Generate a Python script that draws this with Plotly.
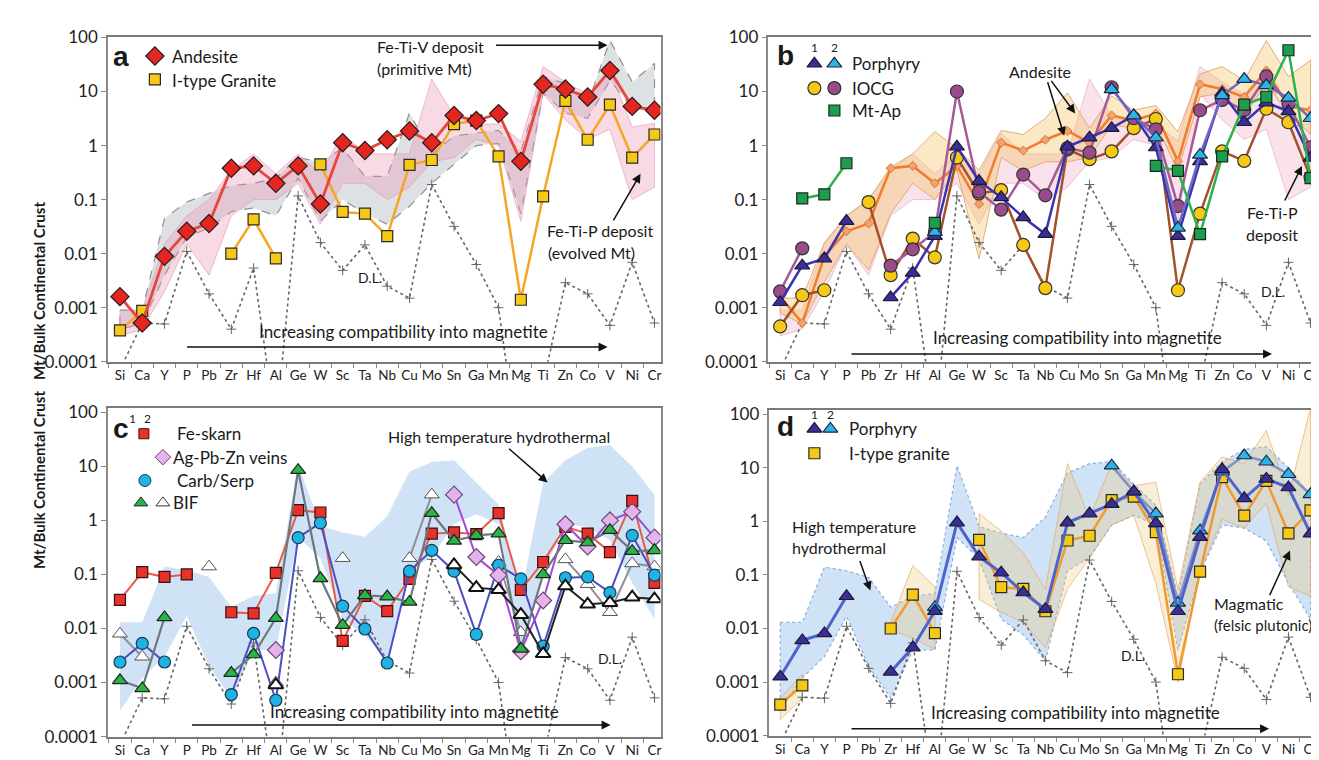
import plotly.graph_objects as go

N = None
ELEMENTS = ["Si", "Ca", "Y", "P", "Pb", "Zr", "Hf", "Al", "Ge", "W", "Sc", "Ta", "Nb",
            "Cu", "Mo", "Sn", "Ga", "Mn", "Mg", "Ti", "Zn", "Co", "V", "Ni", "Cr"]
Y_TICKS = [0.0001, 0.001, 0.01, 0.1, 1, 10, 100]
Y_TICK_LABELS = ["0.0001", "0.001", "0.01", "0.1", "1", "10", "100"]

DETECTION_LIMIT = [7e-5, 5.2e-4, 5e-4, 0.011, 0.0018, 4e-4, 0.0054, 6e-6, 0.117, 0.016, 0.0049, 0.0145, 0.0025,
                   0.0015, 0.19, 0.032, 0.0063, 0.001, 1e-6, 4e-5, 0.0029, 0.0018, 4.7e-4, 0.0069, 5.2e-4]

# panel a
ANDESITE = [0.0016, 0.00052, 0.0089, 0.026, 0.036, 0.38, 0.42, 0.20, 0.42, 0.083, 1.13, 0.81, 1.28,
            1.86, 1.13, 3.6, 2.9, 3.9, 0.51, 13.6, 11.1, 7.9, 24.5, 5.3, 4.5]
ITYPE_GRANITE = [0.00038, 0.00087, N, N, N, 0.010, 0.043, 0.0082, N, 0.45, 0.059, 0.055, 0.021,
                 0.44, 0.54, 2.5, 2.9, 0.63, 0.0014, 0.115, 6.7, 1.28, 5.7, 0.60, 1.6]
FETIV_HI = [0.0009, 0.0009, 0.045, 0.09, 0.13, 0.18, 0.20, 0.25, 0.60, 0.50, 0.90, 0.27, 0.27,
            4.0, 0.70, 1.5, 1.7, 1.9, 0.78, 19, 14, 6.0, 88, 15, 33]
FETIV_LO = [0.0004, 0.0005, 0.004, 0.020, 0.030, 0.060, 0.070, 0.050, 0.25, 0.040, 0.10, 0.055, 0.035,
            0.075, 0.20, 0.45, 1.0, 1.1, 0.055, 9.4, 4.0, 3.2, 16, 5.0, 4.8]
FETIP_HI = [0.0009, 0.0009, 0.015, 0.05, 0.10, 0.35, 0.70, 0.30, 0.70, 0.30, 1.7, 0.70, 0.70,
            0.70, 17, 3.6, 2.5, 2.5, 1.2, 29, 15, 9.0, 25, 2.2, 2.6]
FETIP_LO = [0.0003, 0.0004, 0.002, 0.015, 0.004, 0.05, 0.10, 0.10, 0.20, 0.035, 0.20, 0.20, 0.10,
            0.17, 0.50, 0.60, 1.3, 1.0, 0.04, 9.0, 3.0, 1.3, 2.0, 0.10, 0.17]

# panel b
PORPHYRY_1 = [0.00126, 0.0060, 0.0081, 0.040, N, 0.00155, 0.0044, 0.021, 0.95, 0.22, 0.11, 0.047, 0.023,
              0.95, 1.4, 2.1, 3.6, 0.92, 0.021, 0.51, 9.4, 2.7, 6.2, 4.3, 0.59]
PORPHYRY_2 = [N, N, N, N, N, N, N, 0.025, N, N, N, N, N,
              N, N, 11, 3.6, 1.4, 0.030, 0.67, 8.5, 17, 13, 7.6, 3.2]
IOCG_1 = [0.00045, 0.0017, 0.0021, N, 0.090, 0.0040, 0.019, 0.0085, 0.60, 0.13, 0.15, 0.0145, 0.0023,
          0.85, 0.56, 0.78, 2.1, 3.1, 0.0021, 0.055, 0.78, 0.52, 4.8, 2.7, 0.26]
IOCG_2 = [0.0020, 0.0125, N, N, N, 0.0060, 0.012, 0.025, 10, 0.14, 0.065, 0.29, 0.12,
          0.90, 0.74, 12, 3.2, 2.0, 0.076, 4.5, 7.0, 4.5, 19, 5.9, 0.93]
MT_AP = [N, 0.105, 0.125, 0.47, N, N, N, 0.037, N, N, N, N, N,
         N, N, N, N, 0.42, 0.34, 0.023, 0.63, 5.7, 8.0, 58, 0.25]
ANDESITE_RANGE_HI = [0.0015, 0.0015, 0.016, 0.05, 0.10, 0.40, 0.70, 1.8, 0.90, 0.35, 1.9, 1.6, 3.2,
                     9.4, 2.1, 8.3, 4.5, 5.5, 1.8, 21, 29, 16, 88, 19, 38]
ANDESITE_RANGE_LO = [0.0008, 0.0005, 0.003, 0.015, 0.005, 0.055, 0.20, 0.10, 0.35, 0.008, 0.60, 0.34, 0.50,
                     0.50, 0.60, 2.4, 2.1, 2.5, 0.34, 8.0, 9.4, 3.6, 14, 4.0, 1.6]

# panel c
FE_SKARN = [0.034, 0.11, 0.090, 0.10, N, 0.020, 0.019, 0.107, 1.55, 1.4, 0.0059, 0.040, 0.021,
            0.083, 0.57, 0.60, 0.56, 1.36, 0.052, 0.17, 0.76, 0.57, 0.26, 2.3, 0.070]
AG_PB_ZN = [N, N, N, N, N, N, N, 0.004, N, N, N, N, N,
            N, N, 3.0, 0.21, 0.097, 0.0038, 0.033, 0.85, 0.33, 1.0, 1.45, 0.48]
CARB_SERP = [0.0024, 0.0053, 0.0024, N, N, 0.0006, 0.0081, 0.00047, 0.48, 0.90, 0.026, 0.0098, 0.0023,
             0.115, 0.28, 0.115, 0.0078, 0.148, 0.083, 0.0047, 0.087, 0.090, 0.046, 0.53, 0.097]
BIF_1 = [0.0011, 0.00078, 0.016, N, N, 0.0015, 0.0033, 0.0155, 8.5, 0.085, 0.0115, 0.041, 0.039,
         0.031, 1.36, 0.42, 0.53, 0.57, 0.0042, 0.10, 0.43, 0.39, 0.66, 0.27, 0.28]
BIF_2A = [0.008, 0.003, N, N, 0.14, N, N, 0.001, N, N, 0.20, N, N,
          0.20, 3.0, N, N, 0.17, 0.0085, N, 0.19, 0.066, 0.020, 0.16, 0.14]
BIF_2B = [N, N, N, N, N, N, N, 0.0009, N, N, N, N, N,
          N, N, 0.15, 0.057, 0.052, 0.018, 0.0034, 0.061, 0.028, 0.030, 0.038, 0.035]
HT_HI = [0.013, 0.013, 0.14, 0.12, 0.09, 0.025, 0.04, 0.045, 11, 0.8, 0.6, 0.5, 1.2,
         8, 12, 13, 5, 2, 0.04, 5, 13, 22, 25, 10, 3]
HT_LO = [0.0003, 0.0012, 0.003, 0.017, 0.002, 0.0005, 0.004, 0.004, 0.5, 0.2, 0.015, 0.0076, 0.0025,
         0.12, 0.21, 0.86, 1.3, 0.86, 0.004, 0.11, 0.86, 0.75, 0.43, 0.07, 0.015]

# panel d
MAGMATIC_HI = [0.0005, 0.0014, N, N, N, 0.013, 0.15, 0.06, N, 1.4, 0.66, 0.26, 0.054,
               12, 1.15, 12, 4.6, 5.4, 0.054, 5.4, 16, 12, 50, 3.0, 130]
MAGMATIC_LO = [0.0002, 0.0005, N, N, N, 0.0095, 0.0066, 0.0041, N, 0.035, 0.02, 0.013, 0.0044,
               0.054, 0.21, 0.86, 1.3, 0.07, 0.001, 0.12, 1.1, 0.75, 2.2, 0.06, 0.04]

# ---------------------------------------------------------------- figure
W, H = 1319, 760
FONT = "Lato, Open Sans, sans-serif"
fig = go.Figure()


def band(hi, lo, ax, fill, line_color, dash="solid", lw=1):
    xa, ya = ax
    segs, cur = [], []
    for i, (h, l) in enumerate(zip(hi, lo)):
        if h is None or l is None:
            if cur:
                segs.append(cur)
            cur = []
        else:
            cur.append(i)
    if cur:
        segs.append(cur)
    for seg in segs:
        xs = [ELEMENTS[i] for i in seg] + [ELEMENTS[i] for i in reversed(seg)]
        ys = [hi[i] for i in seg] + [lo[i] for i in reversed(seg)]
        fig.add_trace(go.Scatter(x=xs + [xs[0]], y=ys + [ys[0]], mode="lines", fill="toself",
                                 fillcolor=fill, line=dict(color=line_color, width=lw, dash=dash),
                                 xaxis=xa, yaxis=ya, hoverinfo="skip", showlegend=False))


def series(vals, ax, lc, lw, sym, size, fc, oc, ow=1.2):
    xa, ya = ax
    fig.add_trace(go.Scatter(x=ELEMENTS, y=vals, mode="lines+markers", connectgaps=False,
                             line=dict(color=lc, width=lw),
                             marker=dict(symbol=sym, size=size, color=fc, line=dict(color=oc, width=ow)),
                             xaxis=xa, yaxis=ya, hoverinfo="skip", showlegend=False))


def dl(ax):
    xa, ya = ax
    fig.add_trace(go.Scatter(x=ELEMENTS, y=DETECTION_LIMIT, mode="lines+markers",
                             line=dict(color="#666", width=1.6, dash="dot"),
                             marker=dict(symbol="cross-thin", size=7, color="#666", line=dict(color="#666", width=1)),
                             xaxis=xa, yaxis=ya, hoverinfo="skip", showlegend=False))


A, B, C, D = ("x", "y"), ("x2", "y2"), ("x3", "y3"), ("x4", "y4")

RED, YEL = "#e3261f", "#f6c915"
# panel a
band(FETIV_HI, FETIV_LO, A, "rgba(160,168,178,0.35)", "#8f8f8f", "dash", 1.2)
band(FETIP_HI, FETIP_LO, A, "rgba(235,150,180,0.35)", "rgba(225,150,175,0.6)")
dl(A)
series(ITYPE_GRANITE, A, "#f5a623", 2.5, "square", 11, YEL, "#2a2a2a")
series(ANDESITE, A, "#e8453c", 2.8, "diamond", 14, RED, "#2a1a1a")

# panel b
band(FETIP_HI, FETIP_LO, B, "rgba(235,150,180,0.28)", "rgba(225,150,175,0.5)")
band(ANDESITE_RANGE_HI, ANDESITE_RANGE_LO, B, "rgba(245,195,100,0.38)", "rgba(215,160,100,0.8)")
dl(B)
series(ANDESITE, B, "#f47b2a", 2.5, "diamond", 7, "#f2a26c", "#d6783f", 1)
series(IOCG_1, B, "#a3522a", 2.5, "circle", 13, YEL, "#333")
series(IOCG_2, B, "#a65a98", 2.5, "circle", 13, "#9a4b8c", "#333")
series(PORPHYRY_1, B, "#3a33b0", 2.5, "triangle-up", 13, "#3b2f95", "#1a1a3a")
series(PORPHYRY_2, B, "#7069c4", 2.5, "triangle-up", 13, "#2fb3e6", "#1a2a40")
series(MT_AP, B, "#2bb34a", 2.5, "square", 11, "#1d9e4f", "#1a2a1a")

# panel c
band(HT_HI, HT_LO, C, "rgba(150,190,235,0.45)", "rgba(0,0,0,0)")
dl(C)
series(BIF_2A, C, "#8c9296", 2, "triangle-up", 13, "white", "#555", 1)
series(FE_SKARN, C, "#ea5a48", 2, "square", 11, "#e8312a", "#3a1010")
series(CARB_SERP, C, "#4b4fc4", 2, "circle", 12, "#1fb2e4", "#1a3a50")
series(AG_PB_ZN, C, "#a846d8", 2, "diamond", 13, "#e4b2ec", "#6a4a70")
series(BIF_1, C, "#6d787e", 2.2, "triangle-up", 13, "#2ab34a", "#1a2a1a")
series(BIF_2B, C, "#222", 2, "triangle-up", 13, "white", "#111", 2)

# panel d
band(HT_HI, HT_LO, D, "rgba(150,190,235,0.45)", "#86aee2", "dot", 1.2)
band(MAGMATIC_HI, MAGMATIC_LO, D, "rgba(235,200,120,0.30)", "rgba(230,165,95,0.65)")
dl(D)
series(ITYPE_GRANITE, D, "#f29a2e", 2.5, "square", 11, YEL, "#2a2a2a")
series(PORPHYRY_2, D, "#8290c4", 2.5, "triangle-up", 13, "#2fb3e6", "#1a2a40")
series(PORPHYRY_1, D, "#4f63c9", 3, "triangle-up", 13, "#3b2f95", "#1a1a3a")

# ---------------------------------------------------------------- legend glyphs (overlay axis, pixel space)
LEGEND_GLYPHS = [
    (147, 39, "diamond", 14, RED, "#2a1a1a", 1.2), (147, 63, "square", 11, YEL, "#2a2a2a", 1.2),
    (807, 47, "triangle-up", 13, "#3b2f95", "#1a1a3a", 1.2), (827, 47, "triangle-up", 13, "#2fb3e6", "#1a2a40", 1.2),
    (807, 72, "circle", 13, YEL, "#333", 1.2), (827, 72, "circle", 13, "#9a4b8c", "#333", 1.2),
    (827, 95, "square", 11, "#1d9e4f", "#1a2a1a", 1.2),
    (136, 427, "square", 10, "#e8312a", "#3a1010", 1), (155, 451, "diamond", 12, "#e4b2ec", "#6a4a70", 1),
    (137, 475, "circle", 12, "#1fb2e4", "#1a3a50", 1),
    (133, 498, "triangle-up", 12, "#2ab34a", "#1a2a1a", 1), (155, 498, "triangle-up", 12, "white", "#333", 1),
    (807, 422, "triangle-up", 13, "#3b2f95", "#1a1a3a", 1.2), (823, 422, "triangle-up", 13, "#2fb3e6", "#1a2a40", 1.2),
    (807, 447, "square", 11, YEL, "#2a2a2a", 1.2),
]
for gx, gy, sym, sz, fc, oc, ow in LEGEND_GLYPHS:
    fig.add_trace(go.Scatter(x=[gx], y=[gy], mode="markers", xaxis="x5", yaxis="y5",
                             marker=dict(symbol=sym, size=sz, color=fc, line=dict(color=oc, width=ow)),
                             hoverinfo="skip", showlegend=False))

# ---------------------------------------------------------------- axes
def xax(dom, rng, mirror=True):
    return dict(domain=[dom[0] / W, dom[1] / W], type="category", categoryorder="array",
                categoryarray=ELEMENTS, range=rng, tickson="boundaries", ticks="outside", ticklen=4,
                tickcolor="#888", showline=True, linecolor="#7a7a7a", linewidth=2, mirror=mirror,
                showgrid=False, zeroline=False, tickangle=0, ticklabeloverflow="allow",
                tickfont=dict(family=FONT, size=13.5, color="#222"), fixedrange=True)


def yax(dom, rng, anchor, mirror=True):
    return dict(domain=[1 - dom[1] / H, 1 - dom[0] / H], type="log", range=rng, tickvals=Y_TICKS,
                ticktext=Y_TICK_LABELS, ticks="outside", ticklen=5, tickcolor="#888", showline=True,
                linecolor="#8a8a8a", linewidth=1.5, mirror=mirror, showgrid=False, zeroline=False,
                tickfont=dict(family=FONT, size=17, color="#222"), anchor=anchor, fixedrange=True)


fig.update_layout(
    width=W, height=H, margin=dict(l=0, r=0, t=0, b=0),
    paper_bgcolor="white", plot_bgcolor="rgba(0,0,0,0)", showlegend=False,
    xaxis=dict(xax((100, 653), [-0.54, 24.27]), anchor="y"),
    yaxis=yax((19, 353), [-4, 2.018], "x"),
    xaxis2=dict(xax((761, 1319), [-0.53, 24.7]), anchor="y2"),
    yaxis2=yax((19, 353), [-4, 2.018], "x2", mirror=False),
    xaxis3=dict(xax((100, 653), [-0.54, 24.27]), anchor="y3"),
    yaxis3=yax((401, 738), [-4, 2.072], "x3"),
    xaxis4=dict(xax((762, 1319), [-0.49, 24.7]), anchor="y4"),
    yaxis4=yax((403, 737), [-4, 2.073], "x4", mirror=False),
    xaxis5=dict(domain=[0, 1], range=[0, W], visible=False, anchor="y5", fixedrange=True),
    yaxis5=dict(domain=[0, 1], range=[H, 0], visible=False, anchor="x5", fixedrange=True),
)

# ---------------------------------------------------------------- text
TEXTS = [
    # x, y, text, size, anchor, bold
    (113, 40, "a", 28, "center", True), (778, 38, "b", 28, "center", True),
    (113, 422, "c", 28, "center", True), (778, 420, "d", 28, "center", True),
    (162, 40, "Andesite", 17, "left", False), (162, 64, "I-type Granite", 17, "left", False),
    (843, 47, "Porphyry", 17, "left", False), (843, 72, "IOCG", 17, "left", False),
    (843, 95, "Mt-Ap", 17, "left", False),
    (807, 30, "1", 12, "center", False), (827, 30, "2", 12, "center", False),
    (167, 427, "Fe-skarn", 17, "left", False), (163, 451, "Ag-Pb-Zn veins", 17, "left", False),
    (167, 475, "Carb/Serp", 17, "left", False), (163, 498, "BIF", 17, "left", False),
    (125, 411, "1", 12, "center", False), (140, 411, "2", 12, "center", False),
    (840, 422, "Porphyry", 17, "left", False), (840, 447, "I-type granite", 17, "left", False),
    (807, 407, "1", 12, "center", False), (823, 407, "2", 12, "center", False),
    (367, 29, "Fe-Ti-V deposit", 16, "left", False), (367, 52, "(primitive Mt)", 16, "left", False),
    (537, 218, "Fe-Ti-P deposit", 16, "left", False), (538, 241, "(evolved Mt)", 16, "left", False),
    (348, 267, "D.L.", 14, "left", False), (1252, 281, "D.L.", 14, "left", False),
    (588, 658, "D.L.", 14, "left", False), (1112, 655, "D.L.", 14, "left", False),
    (396, 322, "Increasing compatibility into magnetite", 17, "center", False),
    (1070, 328, "Increasing compatibility into magnetite", 17, "center", False),
    (407, 712, "Increasing compatibility into magnetite", 17, "center", False),
    (1068, 713, "Increasing compatibility into magnetite", 17, "center", False),
    (1000, 55, "Andesite", 16, "left", False),
    (1265, 200, "Fe-Ti-P", 16, "center", False), (1265, 222, "deposit", 16, "center", False),
    (378, 430, "High temperature hydrothermal", 16, "left", False),
    (783, 522, "High temperature", 16, "left", False), (783, 544, "hydrothermal", 16, "left", False),
    (1205, 601, "Magmatic", 16, "left", False), (1205, 623, "(felsic plutonic)", 15, "left", False),
]
for tx, ty, t, sz, anc, bold in TEXTS:
    fig.add_annotation(x=tx / W, y=1 - ty / H, xref="paper", yref="paper", text=f"<b>{t}</b>" if bold else t,
                       showarrow=False, xanchor=anc, yanchor="middle",
                       font=dict(family=FONT if not bold else "Liberation Sans, Arial", size=sz, color="#1a1a1a"))

for yc in (187, 568):
    fig.add_annotation(x=20 / W, y=1 - yc / H, xref="paper", yref="paper", text="<b>Mt/Bulk Continental Crust</b>",
                       textangle=-90, showarrow=False, font=dict(family=FONT, size=15, color="#1a1a1a"))

ARROWS = [
    # tail x, tail y, head x, head y
    (178, 338, 600, 338), (843, 345, 1265, 345), (183, 726, 603, 726), (843, 730, 1262, 730),
    (487, 28, 600, 28), (605, 208, 633, 160),
    (1043, 64, 1068, 98), (1040, 66, 1057, 121), (1277, 188, 1295, 152),
    (500, 442, 540, 477), (852, 557, 863, 588), (1262, 593, 1283, 547),
]
for tx, ty, hx, hy in ARROWS:
    fig.add_annotation(x=hx / W, y=1 - hy / H, xref="paper", yref="paper", ax=tx - hx, ay=ty - hy,
                       axref="pixel", ayref="pixel", text="", showarrow=True, arrowhead=2, arrowsize=1.2,
                       arrowwidth=1.5, arrowcolor="#111")

fig.write_html("out.html")
